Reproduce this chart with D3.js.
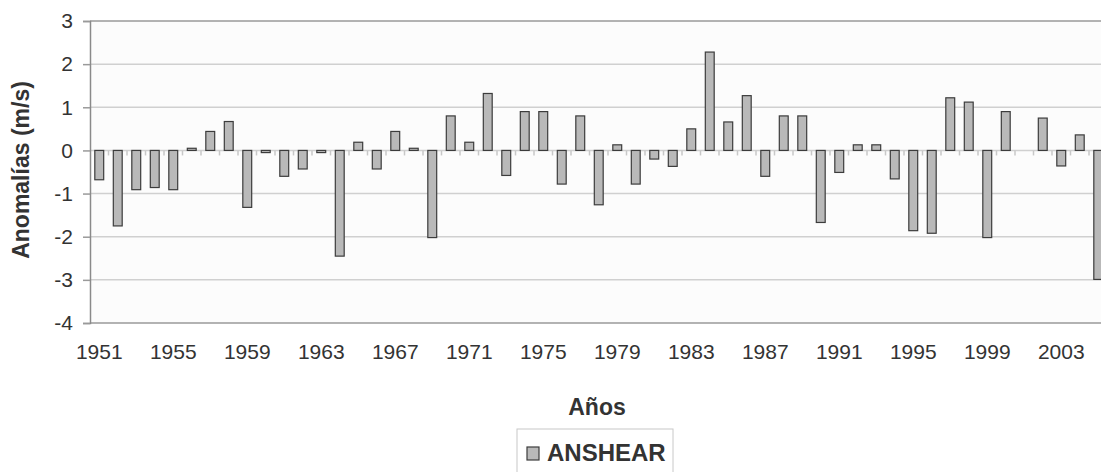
<!DOCTYPE html>
<html><head><meta charset="utf-8">
<script src="https://cdn.jsdelivr.net/npm/d3@7"></script>
<style>html,body{margin:0;padding:0;background:#fff;overflow:hidden}</style>
</head><body>
<svg id="chart" width="1101" height="472"></svg>
<script>
const years = d3.range(1951, 2006).map(String);
const anshear = [
 -0.68,-1.75,-0.91,-0.86,-0.91, 0.05, 0.44, 0.67,-1.32,-0.05,
 -0.60,-0.43,-0.05,-2.45, 0.19,-0.43, 0.44, 0.05,-2.02, 0.80,
  0.19, 1.32,-0.58, 0.90, 0.90,-0.78, 0.80,-1.26, 0.13,-0.78,
 -0.20,-0.37, 0.50, 2.28, 0.66, 1.27,-0.60, 0.80, 0.80,-1.67,
 -0.51, 0.13, 0.13,-0.66,-1.86,-1.92, 1.22, 1.12,-2.02, 0.90,
  0.00, 0.75,-0.36, 0.36,-2.99];
const yTicks = [3,2,1,0,-1,-2,-3,-4];
const xTickLabels = ["1951","1955","1959","1963","1967","1971","1975","1979","1983","1987","1991","1995","1999","2003"];
const seriesName = "ANSHEAR";
const xTitle = "Años";
const yTitle = "Anomalías (m/s)";

const svg = d3.select("#chart");
const L = 90, T = 21, B = 323, R = 90 + 55*18.5;
const font = "'Liberation Sans', Arial, sans-serif";

const x = d3.scaleBand().domain(years).range([L, R]).paddingInner(0.52).paddingOuter(0.26);
const y = d3.scaleLinear().domain([-4, 3]).range([B, T]);

svg.append("rect").attr("x", L).attr("y", T).attr("width", R - L).attr("height", B - T).attr("fill", "#fcfcfc");

// gridlines
svg.append("g").selectAll("line").data(yTicks).join("line")
  .attr("x1", L).attr("x2", R)
  .attr("y1", d => y(d)).attr("y2", d => y(d))
  .attr("stroke", d => (d === 3 || d === -4) ? "#9a9a9a" : "#d0d0d0")
  .attr("stroke-width", 1.5);

// y axis
const yAxis = svg.append("g").attr("transform", `translate(${L},0)`)
  .call(d3.axisLeft(y).tickValues(yTicks).tickSize(7).tickPadding(10).tickFormat(d => String(d)));
yAxis.select(".domain").attr("stroke", "#8a8a8a").attr("stroke-width", 1.5);
yAxis.selectAll(".tick line").attr("stroke", "#9a9a9a").attr("stroke-width", 1.5);
yAxis.selectAll("text").attr("font-family", font).attr("font-size", 21).attr("fill", "#333");

// category ticks on zero line
svg.append("g").selectAll("line").data(years.slice(1)).join("line")
  .attr("x1", d => x(d) - x.step()*x.paddingInner()/2).attr("x2", d => x(d) - x.step()*x.paddingInner()/2)
  .attr("y1", y(0)).attr("y2", y(0) + 5)
  .attr("stroke", "#c8c8c8").attr("stroke-width", 1.5);

// x labels
const xAxis = svg.append("g").attr("transform", `translate(0,${B})`)
  .call(d3.axisBottom(x).tickValues(xTickLabels).tickSize(0).tickPadding(21));
xAxis.select(".domain").remove();
xAxis.selectAll("text").attr("font-family", font).attr("font-size", 21).attr("fill", "#333");

// bars
svg.append("g").selectAll("rect").data(years.map((yr, i) => ({yr, v: anshear[i]})).filter(d => d.v !== 0))
  .join("rect")
  .attr("x", d => x(d.yr)).attr("width", x.bandwidth())
  .attr("y", d => y(Math.max(0, d.v))).attr("height", d => Math.abs(y(d.v) - y(0)))
  .attr("fill", "#b9b9b9").attr("stroke", "#3c3c3c").attr("stroke-width", 1.2);

// titles
svg.append("text").attr("x", 597).attr("y", 415).attr("text-anchor", "middle")
  .attr("font-family", font).attr("font-weight", "bold").attr("font-size", 23).attr("fill", "#333").text(xTitle);
svg.append("text").attr("transform", "translate(29,170) rotate(-90)").attr("text-anchor", "middle")
  .attr("font-family", font).attr("font-weight", "bold").attr("font-size", 23).attr("fill", "#333").text(yTitle);

// legend
svg.append("rect").attr("x", 517).attr("y", 429).attr("width", 156).attr("height", 50)
  .attr("fill", "#fff").attr("stroke", "#c8c8c8").attr("stroke-width", 1);
svg.append("rect").attr("x", 527).attr("y", 447).attr("width", 12).attr("height", 13)
  .attr("fill", "#b9b9b9").attr("stroke", "#3c3c3c").attr("stroke-width", 1.2);
svg.append("text").attr("x", 547).attr("y", 461)
  .attr("font-family", font).attr("font-weight", "bold").attr("font-size", 24).attr("fill", "#333").text(seriesName);
</script>
</body></html>
